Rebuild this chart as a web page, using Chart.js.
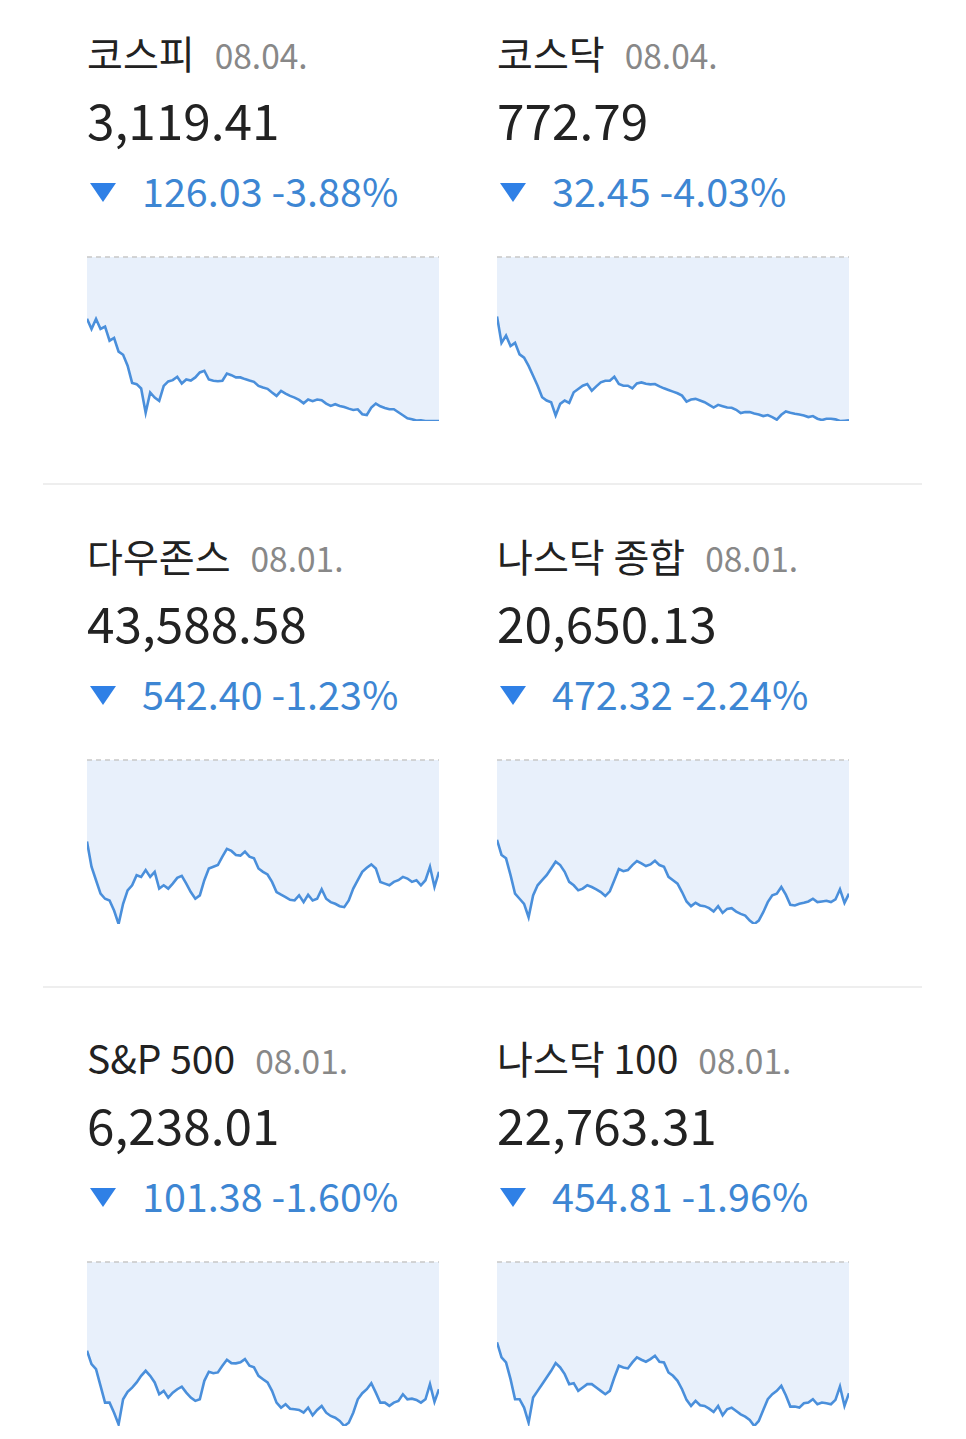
<!DOCTYPE html>
<html>
<head>
<meta charset="utf-8">
<script src="https://cdn.jsdelivr.net/npm/chart.js@4.4.1/dist/chart.umd.min.js"></script>
<style>
html,body{margin:0;padding:0;background:#fff;}
body{width:966px;height:1439px;position:relative;overflow:hidden;font-family:'Noto Sans CJK KR','Noto Sans',sans-serif;}
.title{position:absolute;font-size:39px;line-height:39px;color:#222;white-space:nowrap;}
.title .date{font-size:33.5px;color:#888;margin-left:20px;}
.value{position:absolute;font-size:49.5px;line-height:49.5px;color:#222;white-space:nowrap;}
.change{position:absolute;font-size:39.5px;line-height:39.5px;color:#3d86d3;white-space:nowrap;}
.tri{position:absolute;width:0;height:0;border-left:13.5px solid transparent;border-right:13.5px solid transparent;border-top:19px solid #2f80e6;}
.sep{position:absolute;left:43px;width:879px;height:2px;background:#eeeeee;}
.spark{position:absolute;width:352px;height:170px;}
</style>
</head>
<body>
<div class="sep" style="top:483px"></div>
<div class="sep" style="top:986px"></div>
<script>
// ---- data ----
const panelNames = ['코스피', '코스닥', '다우존스', '나스닥 종합', 'S&P 500', '나스닥 100'];
const panelDates = ['08.04.', '08.04.', '08.01.', '08.01.', '08.01.', '08.01.'];
const closeValues = [3119.41, 772.79, 43588.58, 20650.13, 6238.01, 22763.31];
const changePoints = [126.03, 32.45, 542.40, 472.32, 101.38, 454.81];
const changePercents = [-3.88, -4.03, -1.23, -2.24, -1.60, -1.96];
const sessionStart = ['09:00', '09:00', '09:30', '09:30', '09:30', '09:30'];

const kospiValues = [3197.9, 3190.1, 3197.9, 3190.1, 3191.9, 3181.1, 3183.2, 3172.7, 3170.3, 3161.9,
  3148.7, 3147.7, 3144.4, 3125.8, 3141.3, 3137.4, 3134.8, 3146.4, 3149.8, 3150.8,
  3153.4, 3148.2, 3151.3, 3150.5, 3152.9, 3156.7, 3158.0, 3151.3, 3150.3, 3150.0,
  3150.3, 3155.9, 3154.6, 3152.9, 3152.9, 3151.6, 3150.5, 3149.5, 3146.4, 3145.1,
  3144.1, 3141.3, 3138.7, 3142.6, 3140.5, 3138.7, 3137.4, 3135.6, 3133.0, 3135.9,
  3134.6, 3135.9, 3135.4, 3132.8, 3131.0, 3132.3, 3131.0, 3130.2, 3128.9, 3127.9,
  3128.4, 3124.6, 3124.0, 3129.7, 3132.8, 3130.7, 3129.4, 3128.4, 3128.4, 3126.1,
  3123.8, 3121.5, 3120.7, 3119.7, 3119.9, 3119.4, 3119.4, 3119.4, 3119.41];

const kosdaqValues = [793.44, 788.19, 789.64, 787.54, 788.19, 785.90, 785.24, 783.61, 781.64, 779.67,
  777.38, 776.72, 776.39, 773.77, 776.07, 776.72, 776.26, 778.36, 779.02, 779.67,
  780.00, 778.69, 779.54, 780.33, 780.65, 780.65, 781.44, 780.00, 779.67, 779.67,
  779.15, 780.13, 780.33, 780.06, 779.93, 780.00, 779.54, 779.15, 778.82, 778.49,
  778.16, 777.70, 776.52, 776.92, 777.05, 776.72, 776.39, 775.87, 775.34, 775.87,
  775.61, 775.34, 775.28, 774.89, 774.23, 774.43, 774.43, 774.16, 773.97, 773.64,
  773.84, 773.44, 772.92, 773.90, 774.56, 774.30, 774.10, 773.97, 773.77, 773.44,
  773.64, 773.12, 772.85, 773.12, 773.12, 772.98, 772.66, 772.72, 772.79];

const dowValues = [43735.6, 43613.1, 43547.8, 43482.4, 43457.9, 43449.7, 43400.7, 43335.4, 43433.4, 43498.8,
  43523.3, 43572.3, 43564.1, 43596.8, 43564.1, 43588.6, 43506.9, 43523.3, 43506.9, 43531.4,
  43559.2, 43569.0, 43531.4, 43490.6, 43457.9, 43474.3, 43547.8, 43604.9, 43613.1, 43621.3,
  43662.1, 43699.7, 43689.9, 43670.3, 43667.0, 43686.6, 43662.1, 43654.0, 43604.9, 43588.6,
  43575.5, 43539.6, 43490.6, 43477.5, 43466.1, 43453.0, 43449.7, 43474.3, 43441.6, 43477.5,
  43449.7, 43457.9, 43503.7, 43457.9, 43441.6, 43433.4, 43422.0, 43417.1, 43449.7, 43506.9,
  43547.8, 43588.6, 43608.2, 43624.6, 43604.9, 43539.6, 43531.4, 43523.3, 43539.6, 43547.8,
  43564.1, 43555.9, 43539.6, 43547.8, 43523.3, 43547.8, 43613.1, 43515.1, 43588.58];

const nasdaqValues = [20840.5, 20787.0, 20775.1, 20715.6, 20650.1, 20632.3, 20614.4, 20566.9, 20644.2, 20679.9,
  20697.7, 20715.6, 20739.4, 20763.2, 20751.3, 20727.5, 20691.8, 20679.9, 20662.0, 20668.0,
  20679.9, 20673.9, 20665.6, 20656.1, 20641.8, 20658.5, 20697.7, 20737.0, 20729.8, 20733.4,
  20751.3, 20765.5, 20757.2, 20747.7, 20753.6, 20766.7, 20751.3, 20745.3, 20709.6, 20697.7,
  20685.8, 20656.1, 20622.8, 20606.1, 20618.0, 20608.5, 20606.1, 20599.0, 20587.1, 20606.1,
  20582.3, 20596.6, 20599.0, 20587.1, 20578.8, 20572.8, 20555.0, 20543.1, 20555.0, 20584.7,
  20620.4, 20644.2, 20650.1, 20673.9, 20646.6, 20610.9, 20608.5, 20614.4, 20618.0, 20622.8,
  20632.3, 20620.4, 20622.8, 20625.2, 20620.4, 20629.9, 20665.6, 20618.0, 20650.13];

const sp500Values = [6268.7, 6258.0, 6254.0, 6240.7, 6227.3, 6227.3, 6219.3, 6210.0, 6230.0, 6235.9,
  6239.3, 6243.4, 6248.7, 6252.7, 6248.7, 6243.4, 6234.0, 6236.7, 6231.3, 6235.3,
  6238.0, 6240.1, 6235.3, 6231.3, 6228.7, 6230.0, 6244.7, 6251.9, 6250.8, 6251.4,
  6256.7, 6261.5, 6258.8, 6258.6, 6259.4, 6262.0, 6256.7, 6255.4, 6248.7, 6246.0,
  6243.4, 6236.7, 6227.3, 6223.3, 6226.0, 6222.5, 6222.0, 6221.5, 6219.3, 6223.3,
  6217.2, 6221.5, 6224.7, 6219.3, 6216.7, 6215.3, 6212.7, 6208.7, 6211.3, 6219.3,
  6230.0, 6234.8, 6238.0, 6242.8, 6235.3, 6227.3, 6227.3, 6224.7, 6227.3, 6228.7,
  6234.0, 6230.0, 6230.5, 6229.5, 6227.3, 6230.0, 6242.0, 6227.9, 6238.01];

const ndx100Values = [22939.7, 22887.5, 22870.1, 22812.0, 22742.4, 22742.4, 22713.4, 22661.2, 22748.2, 22771.4,
  22794.6, 22817.8, 22841.0, 22867.7, 22852.6, 22829.4, 22794.6, 22798.1, 22771.4, 22783.0,
  22794.6, 22794.6, 22783.0, 22771.4, 22759.8, 22771.4, 22817.8, 22858.5, 22852.6, 22849.2,
  22870.1, 22887.5, 22879.3, 22872.4, 22881.7, 22893.3, 22872.4, 22870.1, 22835.2, 22823.6,
  22806.2, 22777.2, 22740.1, 22719.2, 22736.6, 22721.5, 22719.2, 22709.9, 22698.3, 22719.2,
  22686.7, 22707.6, 22713.4, 22701.8, 22690.2, 22682.1, 22670.5, 22649.6, 22667.0, 22705.3,
  22742.4, 22759.8, 22771.4, 22788.8, 22756.4, 22716.9, 22716.9, 22713.4, 22728.5, 22730.8,
  22742.4, 22725.0, 22730.8, 22728.5, 22725.0, 22740.1, 22786.5, 22719.2, 22763.31];

const seriesList = [kospiValues, kosdaqValues, dowValues, nasdaqValues, sp500Values, ndx100Values];

// ---- layout ----
const colX = [87, 497];
const rowY = [0, 503, 1005];

function timeLabels(start, count, stepMin) {
  const [h, m] = start.split(':').map(Number);
  const out = [];
  for (let i = 0; i < count; i++) {
    const t = h * 60 + m + i * stepMin;
    out.push(String(Math.floor(t / 60)).padStart(2, '0') + ':' + String(t % 60).padStart(2, '0'));
  }
  return out;
}

const refLinePlugin = {
  id: 'refLine',
  afterDatasetsDraw(chart, args, opts) {
    const y = chart.scales.y.getPixelForValue(opts.value);
    const ctx = chart.ctx;
    const a = chart.chartArea;
    ctx.save();
    ctx.setLineDash([5, 4]);
    ctx.strokeStyle = '#c8c8c8';
    ctx.lineWidth = 1.5;
    ctx.beginPath();
    ctx.moveTo(a.left, y);
    ctx.lineTo(a.right, y);
    ctx.stroke();
    ctx.restore();
  }
};

function fmt(v) {
  return v.toLocaleString('en-US', { minimumFractionDigits: 2, maximumFractionDigits: 2 });
}

panelNames.forEach((name, i) => {
  const cx = colX[i % 2];
  const ry = rowY[Math.floor(i / 2)];
  const data = seriesList[i];
  const prev = closeValues[i] + changePoints[i];

  const t = document.createElement('div');
  t.className = 'title';
  t.style.left = cx + 'px';
  t.style.top = (32.8 + ry) + 'px';
  t.innerHTML = name + '<span class="date">' + panelDates[i] + '</span>';
  document.body.appendChild(t);

  const v = document.createElement('div');
  v.className = 'value';
  v.style.left = cx + 'px';
  v.style.top = (94.3 + ry) + 'px';
  v.textContent = fmt(closeValues[i]);
  document.body.appendChild(v);

  const tri = document.createElement('div');
  tri.className = 'tri';
  tri.style.left = (cx + 3) + 'px';
  tri.style.top = (183 + ry) + 'px';
  document.body.appendChild(tri);

  const c = document.createElement('div');
  c.className = 'change';
  c.style.left = (cx + 55) + 'px';
  c.style.top = (170 + ry) + 'px';
  c.textContent = fmt(changePoints[i]) + ' ' + changePercents[i].toFixed(2) + '%';
  document.body.appendChild(c);

  const box = document.createElement('div');
  box.className = 'spark';
  box.style.left = cx + 'px';
  box.style.top = (254 + ry) + 'px';
  const cv = document.createElement('canvas');
  cv.width = 352; cv.height = 170;
  cv.style.width = '352px'; cv.style.height = '170px';
  box.appendChild(cv);
  document.body.appendChild(box);

  new Chart(cv, {
    type: 'line',
    data: {
      labels: timeLabels(sessionStart[i], data.length, 5),
      datasets: [{
        data: data,
        borderColor: '#4a8fdb',
        borderWidth: 2.6,
        backgroundColor: '#e8f0fb',
        fill: 'end',
        pointRadius: 0,
        tension: 0
      }]
    },
    options: {
      responsive: false,
      animation: false,
      events: [],
      layout: { padding: { top: 3, bottom: 3, left: 0, right: 0 } },
      plugins: { legend: { display: false }, tooltip: { enabled: false }, refLine: { value: prev } },
      scales: {
        x: { display: false },
        y: { display: false, min: Math.min(...data), max: prev }
      }
    },
    plugins: [refLinePlugin]
  });
});
</script>
</body>
</html>
